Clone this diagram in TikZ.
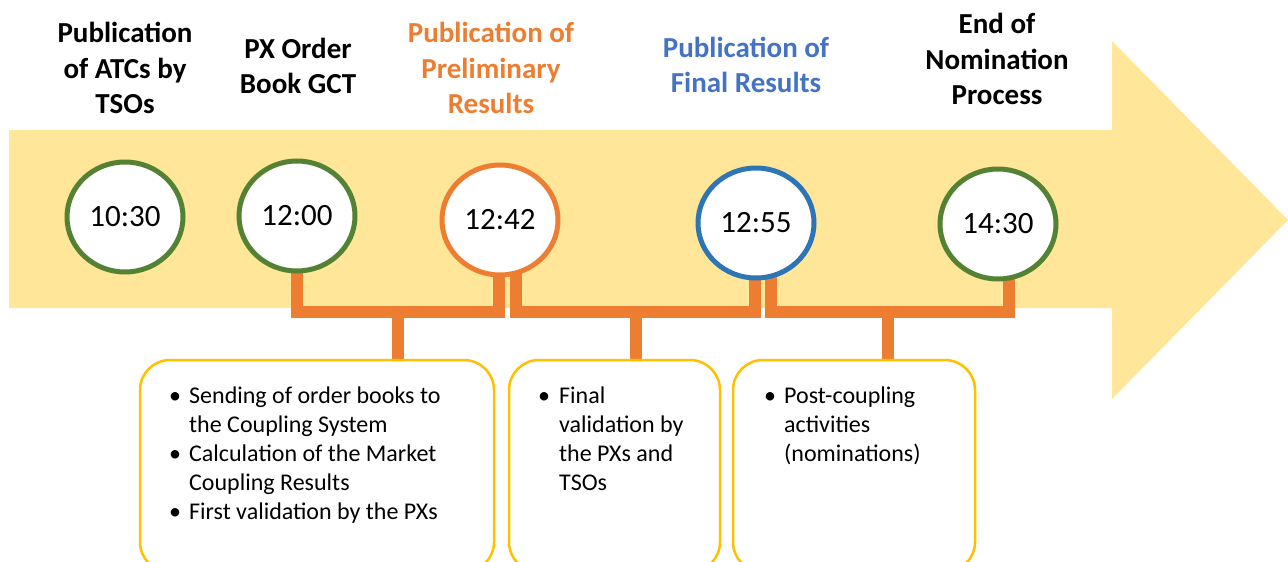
\documentclass[tikz,border=0pt]{standalone}
\usepackage{fontspec}
\setmainfont{Carlito}
\usetikzlibrary{calc,shapes.geometric}
\definecolor{bandc}{HTML}{FFE699}
\definecolor{cgreen}{HTML}{548235}
\definecolor{corange}{HTML}{ED7D31}
\definecolor{cblue}{HTML}{2E75B6}
\definecolor{tblue}{HTML}{4472C4}
\definecolor{gold}{HTML}{FFC000}
\pgfdeclarelayer{bg}
\pgfdeclarelayer{mid}
\pgfsetlayers{bg,mid,main}
\begin{document}
\begin{tikzpicture}[x=1pt,y=-1pt,
  timecirc/.style={ellipse,draw,fill=white,line width=5pt,minimum width=116pt,minimum height=110pt,inner sep=0pt,font=\fontsize{31}{36}\selectfont},
  head/.style={align=center,font=\bfseries\fontsize{29}{35.5}\selectfont},
  conn/.style={draw=corange,line width=11.5pt,line join=miter},
  infobox/.style={draw=gold,line width=2.5pt,fill=white,rounded corners=30pt,inner sep=0pt},
  bultxt/.style={anchor=base west,align=left,inner sep=0pt,font=\fontsize{24}{29}\selectfont},
]
\clip (0,0) rectangle (1288,562);
\useasboundingbox (0,0) rectangle (1288,562);
\begin{pgfonlayer}{bg}
\fill[bandc] (9,130) -- (1112,130) -- (1112,41) -- (1288,220) -- (1112,399) -- (1112,308) -- (9,308) -- cycle;
\end{pgfonlayer}
% headings
\node[head] (h1) at (125,68) {Publication\\of ATCs by\\TSOs};
\node[head] (h2) at (298,66) {PX Order\\Book GCT};
\node[head,text=corange] (h3) at (491,68) {Publication of\\Preliminary\\Results};
\node[head,text=tblue] (h4) at (746,65) {Publication of\\Final Results};
\node[head] (h5) at (997,59) {End of\\Nomination\\Process};
% circles
\node[timecirc,draw=cgreen] (c1) at (125,217) {10:30};
\node[timecirc,draw=cgreen] (c2) at (297,216) {12:00};
\node[timecirc,draw=corange] (c3) at (500,220) {12:42};
\node[timecirc,draw=cblue] (c4) at (756,223) {12:55};
\node[timecirc,draw=cgreen] (c5) at (998,224) {14:30};
% boxes
\node[infobox,minimum width=354pt,minimum height=212pt] (b1) at (317,466) {};
\node[infobox,minimum width=211pt,minimum height=212pt] (b2) at (614.5,466) {};
\node[infobox,minimum width=242pt,minimum height=212pt] (b3) at (854,466) {};
% connectors
\coordinate (j1) at (398,312);
\coordinate (j2) at (636,312);
\coordinate (j3) at (888,312);
\begin{pgfonlayer}{mid}
\draw[conn] (c2.center) -- (c2.center |- j1) -- ($(c3.center |- j1)+(-1,0)$) -- ($(c3.center)+(-1,0)$);
\draw[conn] ($(c3.center)+(16,0)$) -- ($(c3.center |- j2)+(16,0)$) -- ($(c4.center |- j2)+(-1,0)$) -- ($(c4.center)+(-1,0)$);
\draw[conn] ($(c4.center)+(15,0)$) -- ($(c4.center |- j3)+(15,0)$) -- ($(c5.center |- j3)+(11,0)$) -- ($(c5.center)+(11,0)$);
\draw[conn] (j1) -- (j1 |- b1.north);
\draw[conn] (j2) -- (j2 |- b2.north);
\draw[conn] (j3) -- (j3 |- b3.north);
\end{pgfonlayer}
% box texts (anchored at the baseline of the last line)
\node[bultxt] (u1) at (169,403) {•};
\node[bultxt] (t1) at (189,432) {Sending of order books to\\the Coupling System};
\node[bultxt] (u2) at (169,461) {•};
\node[bultxt] (t2) at (189,490) {Calculation of the Market\\Coupling Results};
\node[bultxt] (u3) at (169,519) {•};
\node[bultxt] (t3) at (189,519) {First validation by the PXs};
\node[bultxt] (u4) at (538,403) {•};
\node[bultxt] (t4) at (559,490) {Final\\validation by\\the PXs and\\TSOs};
\node[bultxt] (u5) at (764,403) {•};
\node[bultxt] (t5) at (784,461) {Post-coupling\\activities\\(nominations)};
\end{tikzpicture}
\end{document}
